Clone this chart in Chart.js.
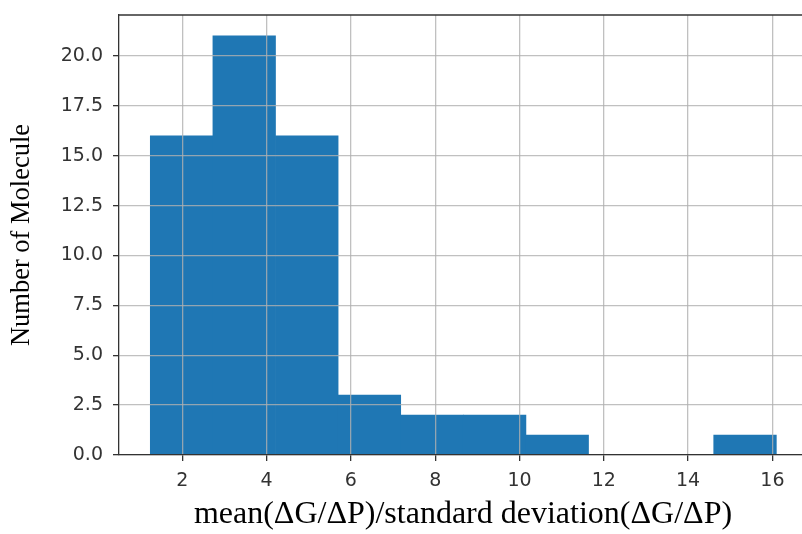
<!DOCTYPE html>
<html>
<head>
<meta charset="utf-8">
<script src="https://cdn.jsdelivr.net/npm/chart.js@4.4.1/dist/chart.umd.min.js"></script>
<style>
    html, body { margin: 0; padding: 0; background: #fff; overflow: hidden; }
    #wrap { width: 810px; height: 534px; }
</style>
</head>
<body>
<div id="wrap"><canvas id="histChart" width="810" height="534"></canvas></div>
<script>
// ==============================
// Histogram data
// ==============================

const binEdges = [1.24, 2.73, 4.21, 5.70, 7.18, 8.67, 10.15, 11.64, 13.12, 14.61, 16.09];
const counts = [16, 21, 16, 3, 2, 2, 1, 0, 0, 1];
const xTicks = [2, 4, 6, 8, 10, 12, 14, 16];
const yTicks = [0, 2.5, 5, 7.5, 10, 12.5, 15, 17.5, 20];

const xLabel = "mean(ΔG/ΔP)/standard deviation(ΔG/ΔP)";
const yLabel = "Number of Molecule";

// one bar per bin, centred between its edges
const bars = counts.map((c, i) => ({
    x: (binEdges[i] + binEdges[i + 1]) / 2,
    y: c
}));

// top spine (matplotlib style frame)
const topFrame = {
    id: "topFrame",
    afterDraw(chart) {
        const { ctx, chartArea } = chart;
        ctx.save();
        ctx.strokeStyle = "#333";
        ctx.lineWidth = 1.3;
        ctx.beginPath();
        ctx.moveTo(chartArea.left, chartArea.top);
        ctx.lineTo(chartArea.right, chartArea.top);
        ctx.stroke();
        ctx.restore();
    }
};

const tickFont = { family: "DejaVu Sans", size: 19 };

// grid above the bars, border drawn after the grid
const gridStyle = {
    z: 1,
    offset: false,
    color: "rgba(176,176,176,0.8)",
    lineWidth: 1.3,
    tickColor: "#333",
    tickLength: 6
};
const borderStyle = { color: "#333", width: 1.3, z: 2 };

new Chart(document.getElementById("histChart"), {
    type: "bar",
    data: {
        datasets: [{
            data: bars,
            backgroundColor: "#1f77b4",
            borderWidth: 0,
            barPercentage: 1,
            categoryPercentage: 1
        }]
    },
    options: {
        responsive: false,
        animation: false,
        layout: { padding: { top: 15, right: 3, left: 0, bottom: 0 } },
        plugins: {
            legend: { display: false },
            tooltip: { enabled: false }
        },
        scales: {
            x: {
                type: "linear",
                offset: false,
                min: 0.5,
                max: 16.82,
                afterFit: s => {
                    s.height = 79;
                    s.paddingLeft = 0;
                    s.paddingRight = 0;
                },
                afterBuildTicks: s => { s.ticks = xTicks.map(v => ({ value: v })); },
                grid: gridStyle,
                border: borderStyle,
                ticks: {
                    font: tickFont,
                    color: "#333",
                    padding: 9,
                    maxRotation: 0
                },
                title: {
                    display: true,
                    text: xLabel,
                    font: { family: "Liberation Serif", size: 32 },
                    color: "#000",
                    padding: { top: 2, bottom: 0 }
                }
            },
            y: {
                min: 0,
                max: 22.05,
                afterFit: s => {
                    s.width = 119;
                    s.paddingTop = 0;
                    s.paddingBottom = 0;
                },
                afterBuildTicks: s => { s.ticks = yTicks.map(v => ({ value: v })); },
                grid: gridStyle,
                border: borderStyle,
                ticks: {
                    font: tickFont,
                    color: "#333",
                    padding: 10,
                    callback: v => v.toFixed(1)
                },
                title: {
                    display: true,
                    text: yLabel,
                    font: { family: "Liberation Serif", size: 26.5 },
                    color: "#000",
                    padding: { top: 6, bottom: 0 }
                }
            }
        }
    },
    plugins: [topFrame]
});
</script>
</body>
</html>
